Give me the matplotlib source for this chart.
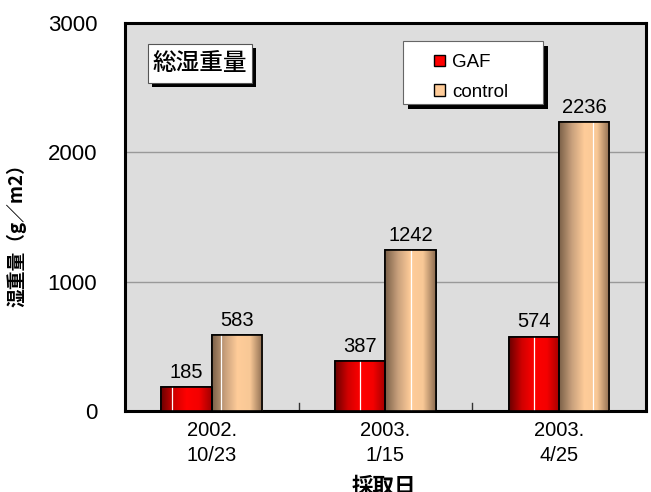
import matplotlib.pyplot as plt
import numpy as np
from matplotlib.colors import LinearSegmentedColormap
from matplotlib.patches import Rectangle, Patch

plt.rcParams['font.family'] = ['Noto Sans CJK JP', 'DejaVu Sans']
latin = ['Liberation Sans', 'DejaVu Sans']

dates = ['2002.\n10/23', '2003.\n1/15', '2003.\n4/25']
gaf = [185, 387, 574]
control = [583, 1242, 2236]

fig = plt.figure(figsize=(6.51, 4.92), dpi=100)
ax = fig.add_axes([0.192, 0.165, 0.8, 0.788])
ax.set_facecolor('#dddddd')

# 円柱風のグラデーション
red_cm = LinearSegmentedColormap.from_list('r', ['#6a0000', '#d00000', '#ff0000', '#f40000', '#a00000'])
tan_cm = LinearSegmentedColormap.from_list('t', ['#7a6048', '#c8a07c', '#ffcc99', '#f8c896', '#8c6c50'])
grad = np.linspace(0, 1, 128).reshape(1, -1)

x = np.arange(len(dates))
w = 0.29
b1 = ax.bar(x - w / 2, gaf, w, color='#ff0000', edgecolor='black', linewidth=1.2, zorder=3)
b2 = ax.bar(x + w / 2, control, w, color='#ffcc99', edgecolor='black', linewidth=1.2, zorder=3)

hl = [[0.2, 0.5, 0.5], [0.18, 0.5, 0.68]]
for bars, cm, pos in [(b1, red_cm, hl[0]), (b2, tan_cm, hl[1])]:
    for r, p in zip(bars, pos):
        x0, h, bw = r.get_x(), r.get_height(), r.get_width()
        im = ax.imshow(grad, extent=[x0, x0 + bw, 0, h], aspect='auto', cmap=cm, zorder=3.5)
        im.set_clip_path(r)
        ax.plot([x0 + bw * p] * 2, [0, h], color='white', lw=0.9, zorder=3.6)
        ax.add_patch(Rectangle((x0, 0), bw, h, fill=False, edgecolor='black', lw=1.2, zorder=3.7))
        ax.text(x0 + bw / 2, h + 40, str(int(h)), ha='center', va='bottom', fontsize=14.5,
                family=latin, zorder=5)

ax.set_xlim(-0.5, 2.5)
ax.set_ylim(0, 3000)
ax.set_yticks([0, 1000, 2000, 3000])
ax.set_yticklabels(['0', '1000', '2000', '3000'], fontsize=16, family=latin)
ax.tick_params(axis='y', length=0, pad=20)
ax.set_xticks(x)
ax.set_xticklabels(dates, fontsize=14.5, linespacing=1.4, family=latin)
ax.tick_params(axis='x', length=0, pad=7)
for xb in [0.5, 1.5]:
    ax.plot([xb, xb], [0, 60], color='#333333', lw=1, zorder=2)
ax.grid(axis='y', color='#999999', lw=1, zorder=1)
ax.set_axisbelow(True)
for s in ax.spines.values():
    s.set_linewidth(2.2)

ax.set_ylabel('湿重量（g／m2）', fontsize=13.5, fontweight='bold')
ax.yaxis.set_label_coords(-0.19, 0.466)
fig.text(0.59, 0.0102, '採取日', fontsize=15.5, fontweight='bold', ha='center', va='center')

# タイトルボックス
tx, ty, tw, th = 0.0441, 0.8454, 0.1997, 0.1005
ax.add_patch(Rectangle((tx + 0.0077, ty - 0.0103), tw, th, transform=ax.transAxes,
                       facecolor='black', edgecolor='none', zorder=6))
ax.add_patch(Rectangle((tx, ty), tw, th, transform=ax.transAxes,
                       facecolor='white', edgecolor='#555555', lw=0.8, zorder=7))
ax.text(tx + tw / 2, ty + th / 2, '総湿重量', transform=ax.transAxes, ha='center', va='center',
        fontsize=17, fontweight='medium', zorder=8)

# 凡例ボックス
lx, ly, lw_, lh = 0.5336, 0.7912, 0.2687, 0.1624
ax.add_patch(Rectangle((lx + 0.0096, ly - 0.0129), lw_, lh, transform=ax.transAxes,
                       facecolor='black', edgecolor='none', zorder=8))
ax.add_patch(Rectangle((lx, ly), lw_, lh, transform=ax.transAxes,
                       facecolor='white', edgecolor='#666666', lw=0.8, zorder=9))
handles = [Patch(facecolor='#ff0000', edgecolor='black', label='GAF'),
           Patch(facecolor='#ffcc99', edgecolor='black', label='control')]
leg = ax.legend(handles=handles, loc='upper left', bbox_to_anchor=(0.593, 0.92),
                frameon=False, borderpad=0, borderaxespad=0, handlelength=0.6, handleheight=0.6,
                handletextpad=0.38, labelspacing=0.67, prop={'family': latin, 'size': 13.5})
leg.set_zorder(10)

fig.savefig('out.png', dpi=100)
